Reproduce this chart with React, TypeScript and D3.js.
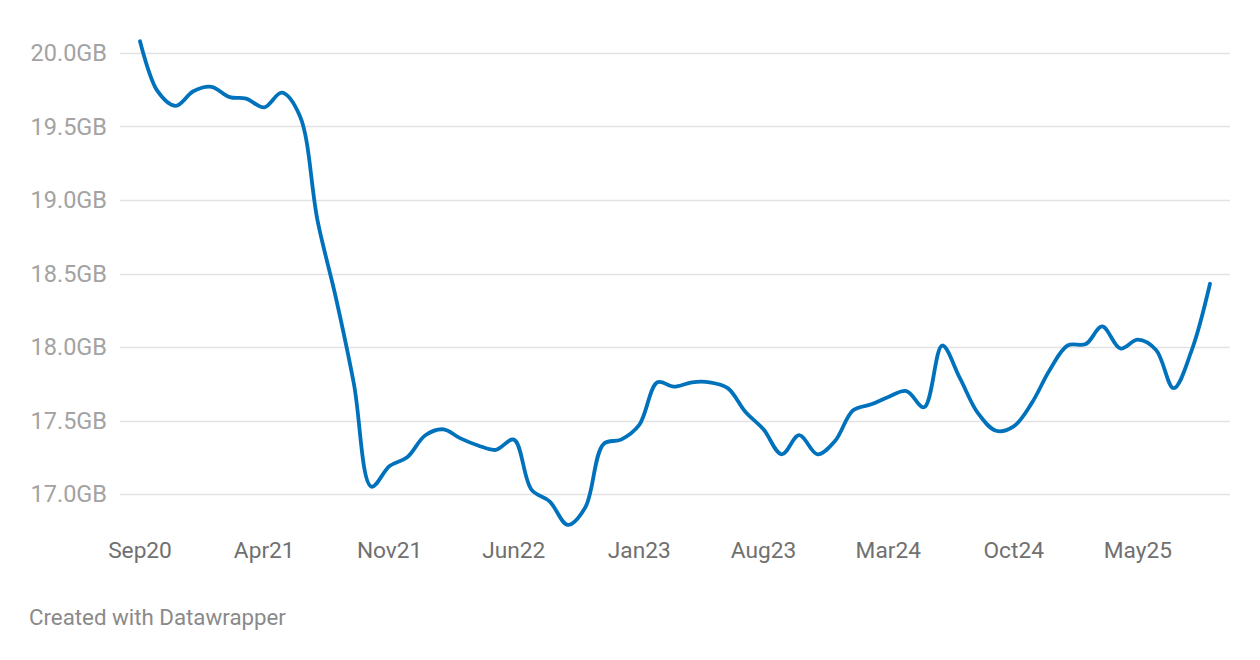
import React from "react";
import * as d3 from "d3";

const months: string[] = [
  "2020-09","2020-10","2020-11","2020-12","2021-01","2021-02","2021-03","2021-04","2021-05","2021-06","2021-07","2021-08",
  "2021-09","2021-10","2021-11","2021-12","2022-01","2022-02","2022-03","2022-04","2022-05","2022-06","2022-07","2022-08",
  "2022-09","2022-10","2022-11","2022-12","2023-01","2023-02","2023-03","2023-04","2023-05","2023-06","2023-07","2023-08",
  "2023-09","2023-10","2023-11","2023-12","2024-01","2024-02","2024-03","2024-04","2024-05","2024-06","2024-07","2024-08",
  "2024-09","2024-10","2024-11","2024-12","2025-01","2025-02","2025-03","2025-04","2025-05","2025-06","2025-07","2025-08",
  "2025-09",
];

const valuesGB: number[] = [
  20.08, 19.74, 19.64, 19.74, 19.77, 19.70, 19.69, 19.63, 19.73, 19.57, 18.86, 18.34,
  17.75, 17.05, 17.19, 17.25, 17.40, 17.44, 17.38, 17.33, 17.30, 17.37, 17.03, 16.95,
  16.79, 16.91, 17.34, 17.37, 17.47, 17.76, 17.73, 17.76, 17.76, 17.72, 17.56, 17.44,
  17.27, 17.40, 17.27, 17.36, 17.57, 17.61, 17.66, 17.70, 17.59, 18.01, 17.79, 17.55,
  17.43, 17.46, 17.62, 17.84, 18.01, 18.02, 18.14, 17.99, 18.05, 17.98, 17.72, 17.98,
  18.43,
];

const yTicks: number[] = [17.0, 17.5, 18.0, 18.5, 19.0, 19.5, 20.0];
const xTickMonths: string[] = ["2020-09","2021-04","2021-11","2022-06","2023-01","2023-08","2024-03","2024-10","2025-05"];

const parse = d3.timeParse("%Y-%m");
const fmtX = d3.timeFormat("%b%y");

export default function App() {
  const W = 1260, H = 660;
  const data = months.map((m, i) => ({ date: parse(m) as Date, v: valuesGB[i] }));
  const x = d3.scaleTime()
    .domain([data[0].date, data[data.length - 1].date])
    .range([140, 1210]);
  const y = d3.scaleLinear().domain([17, 20]).range([494, 53]);
  const line = d3.line<{ date: Date; v: number }>()
    .x(d => x(d.date))
    .y(d => y(d.v))
    .curve(d3.curveCatmullRom.alpha(0.5));

  return (
    <svg width={W} height={H} style={{ position: "absolute", left: 0, top: 0, background: "#fff" }}
      fontFamily="Roboto, sans-serif">
      {yTicks.map(t => (
        <g key={t}>
          <line x1={120} x2={1230} y1={Math.round(y(t)) + 0.5} y2={Math.round(y(t)) + 0.5}
            stroke="#e2e2e2" strokeWidth={1.3} />
          <text x={107} y={y(t)} textAnchor="end" dominantBaseline="central"
            fontSize={23.5} fill="#a3a3a3">{t.toFixed(1)}GB</text>
        </g>
      ))}
      {xTickMonths.map(m => {
        const d = parse(m) as Date;
        return (
          <text key={m} x={x(d)} y={550} textAnchor="middle" dominantBaseline="central"
            fontSize={22.7} fill="#707070">{fmtX(d)}</text>
        );
      })}
      <path d={line(data) || ""} fill="none" stroke="#0072bc" strokeWidth={3.8}
        strokeLinejoin="round" strokeLinecap="round" />
      <text x={29} y={617} dominantBaseline="central" fontSize={22.3} fill="#8a8a8a">Created with Datawrapper</text>
    </svg>
  );
}
